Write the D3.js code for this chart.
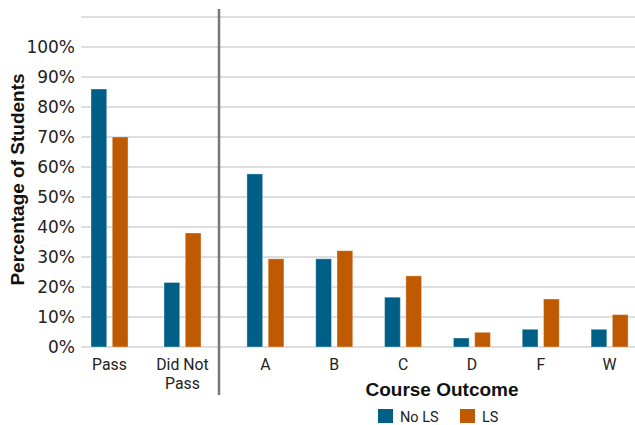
<!DOCTYPE html>
<html>
<head>
<meta charset="utf-8">
<script src="https://cdn.jsdelivr.net/npm/d3@7"></script>
<style>
  html, body { margin: 0; padding: 0; background: #fff; }
  svg { display: block; font-family: Roboto, "Noto Sans", sans-serif; }
  .y-axis text { font-family: "DejaVu Sans", sans-serif; font-size: 17px; fill: #222; }
</style>
</head>
<body>
<svg id="chart" width="635" height="425"></svg>
<script>
// Pass / fail summary and letter-grade breakdown, percentage of students
const summaryCategories = ["Pass", "Did Not Pass"];
const gradeCategories = ["A", "B", "C", "D", "F", "W"];
const seriesNames = ["No LS", "LS"];
const summaryNoLS = [86, 21.5];
const summaryLS = [70, 38];
const gradeNoLS = [57.7, 29.4, 16.6, 3.0, 5.9, 5.9];
const gradeLS = [29.4, 32.1, 23.7, 4.9, 16.0, 10.8];
const yTicks = [0, 10, 20, 30, 40, 50, 60, 70, 80, 90, 100];
const gridValues = [0, 10, 20, 30, 40, 50, 60, 70, 80, 90, 100, 110];
const colors = ["#005f86", "#c05a00"];

const svg = d3.select("#chart");
const font = "Roboto, sans-serif";
const titleFont = "'Liberation Sans', Arial, sans-serif";

const y = d3.scaleLinear().domain([0, 110]).range([347, 17]);

const xLeft = d3.scaleBand().domain(summaryCategories).range([73, 219]).paddingInner(0);
const xRight = d3.scaleBand().domain(gradeCategories).range([231, 644]).paddingInner(0);
const xSub = d3.scaleBand().domain(seriesNames).range([-18.5, 18.5]).paddingInner(0.26);

// gridlines
svg.append("g")
  .selectAll("line")
  .data(gridValues)
  .join("line")
  .attr("x1", 81).attr("x2", 635)
  .attr("y1", d => y(d)).attr("y2", d => y(d))
  .attr("stroke", "#d3d3d3")
  .attr("stroke-width", 1.6);

// y axis labels
const yAxis = d3.axisLeft(y).tickValues(yTicks).tickFormat(d => d + "%").tickSize(0).tickPadding(6);
const yg = svg.append("g")
  .attr("class", "y-axis")
  .attr("transform", "translate(81,0)")
  .call(yAxis)
  .attr("font-family", null)
  .attr("font-size", null);
yg.select(".domain").remove();

// bars
const rows = [];
summaryCategories.forEach((c, i) => {
  rows.push({ cx: xLeft(c) + xLeft.bandwidth() / 2, s: seriesNames[0], v: summaryNoLS[i] });
  rows.push({ cx: xLeft(c) + xLeft.bandwidth() / 2, s: seriesNames[1], v: summaryLS[i] });
});
gradeCategories.forEach((c, i) => {
  rows.push({ cx: xRight(c) + xRight.bandwidth() / 2, s: seriesNames[0], v: gradeNoLS[i] });
  rows.push({ cx: xRight(c) + xRight.bandwidth() / 2, s: seriesNames[1], v: gradeLS[i] });
});

svg.append("g")
  .selectAll("rect")
  .data(rows)
  .join("rect")
  .attr("x", d => d.cx + xSub(d.s))
  .attr("width", xSub.bandwidth())
  .attr("y", d => y(d.v))
  .attr("height", d => y(0) - y(d.v))
  .attr("fill", d => colors[seriesNames.indexOf(d.s)])
  .attr("stroke", "#ffffff")
  .attr("stroke-opacity", 0.35)
  .attr("stroke-width", 1);

// category labels (the long summary label wraps onto two lines)
summaryCategories.forEach(c => {
  const cx = xLeft(c) + xLeft.bandwidth() / 2;
  const parts = c === "Did Not Pass" ? ["Did Not", "Pass"] : [c];
  parts.forEach((p, i) => {
    svg.append("text")
      .attr("x", cx)
      .attr("y", 369.5 + i * 19)
      .attr("text-anchor", "middle")
      .attr("font-size", 15.8)
      .attr("font-family", font)
      .attr("fill", "#222")
      .text(p);
  });
});
gradeCategories.forEach(c => {
  svg.append("text")
    .attr("x", xRight(c) + xRight.bandwidth() / 2)
    .attr("y", 369.5)
    .attr("text-anchor", "middle")
    .attr("font-size", 15.8)
    .attr("font-family", font)
    .attr("fill", "#222")
    .text(c);
});

// divider between summary and grade groups
svg.append("line")
  .attr("x1", 219).attr("x2", 219)
  .attr("y1", 9).attr("y2", 395)
  .attr("stroke", "#777")
  .attr("stroke-width", 2.5);

// axis titles
svg.append("text")
  .attr("transform", "translate(24,179.5) rotate(-90)")
  .attr("text-anchor", "middle")
  .attr("font-size", 19)
  .attr("font-weight", "bold")
  .attr("font-family", titleFont)
  .attr("fill", "#111")
  .text("Percentage of Students");

svg.append("text")
  .attr("x", 442)
  .attr("y", 396)
  .attr("text-anchor", "middle")
  .attr("font-size", 19)
  .attr("font-weight", "bold")
  .attr("font-family", titleFont)
  .attr("fill", "#111")
  .text("Course Outcome");

// legend
const legend = svg.append("g");
const legendX = [378, 460];
seriesNames.forEach((s, i) => {
  legend.append("rect")
    .attr("x", legendX[i]).attr("y", 409)
    .attr("width", 15).attr("height", 14)
    .attr("fill", colors[i]);
  legend.append("text")
    .attr("x", legendX[i] + 22).attr("y", 421.5)
    .attr("font-size", 14.5)
    .attr("font-family", font)
    .attr("fill", "#222")
    .text(s);
});
</script>
</body>
</html>
